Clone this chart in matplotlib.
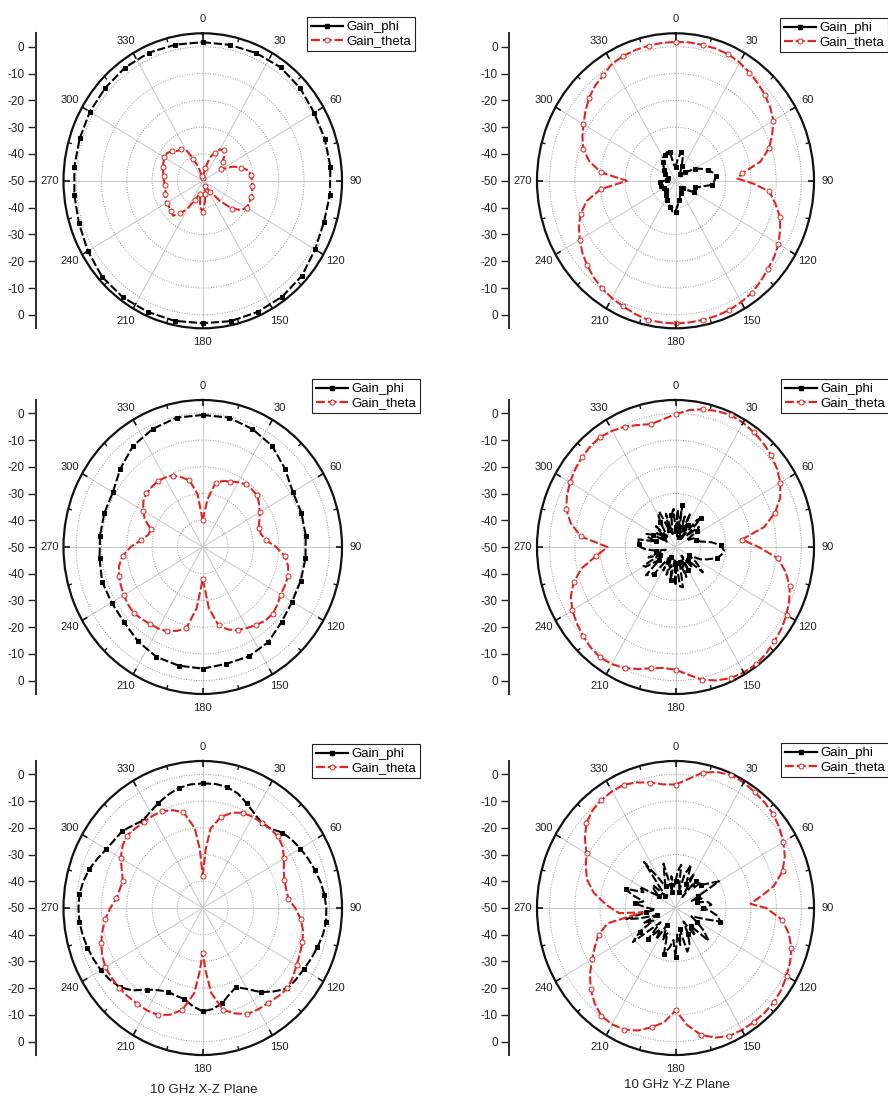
import numpy as np
import matplotlib
matplotlib.use("Agg")
import matplotlib.pyplot as plt
from matplotlib.lines import Line2D

plt.rcParams['font.family'] = ['Liberation Sans', 'DejaVu Sans']

# ---------------------------------------------------------------- data (dB)
ANG12 = list(range(0, 360, 12))
ANG6 = list(range(0, 360, 6))

# X-Z plane, first row
xz_a_phi = [1.7, 1.8, 2.1, 2.3, 1.7, 0.8, 0.7, 0.7, 0.5, 0.3, 1.2, 2.8, 3.4, 3.5, 3.5,
            3.1, 3.4, 3.5, 3.7, 3.5, 2.4, 1.4, 1.0, 1.0, 1.1, 1.5, 1.8, 2.2, 2.3, 1.9]
xz_a_theta = [-49, -48, -45, -41, -38.5, -36.5, -36, -37, -39.5, -41,
              -41.5, -37, -34, -31.5, -31, -30.5, -30.3, -30, -30, -29.8,
              -30, -31.5, -34.5, -40, -45, -47, -48, -47, -45, -42,
              -38.5, -40, -45, -44, -42, -38, -35, -32.5, -33, -33.5,
              -33.5, -33.8, -34.5, -35, -35, -34.6, -34.5, -34, -33.5, -33,
              -32.5, -32.5, -33.5, -35, -35.5, -36.5, -41, -45, -48, -49.5]

# Y-Z plane, first row
ys_a_phi = [-45, -42, -39, -40.5, -44, -46, -47, -46.5, -45, -44,
            -41, -39, -36.5, -35, -34, -34.5, -35.5, -39.5, -42, -42.5,
            -41.5, -44, -46, -47, -46.5, -46.5, -45, -44, -42.5, -41,
            -38.5, -38.5, -40, -41, -42, -43, -43.5, -44, -45, -45,
            -44.5, -44, -43.8, -43.5, -44, -45.5, -46.5, -47, -47, -46,
            -45, -44.5, -44, -43, -41.5, -40, -39.5, -38.8, -39, -44]
ys_a_theta_ang = [0, 6, 12, 18, 24, 30, 36, 42, 48, 54, 60, 66, 72, 78, 84, 88, 92, 96,
                  102, 108, 114, 120, 126, 132, 138, 144, 150, 156, 162, 168, 174, 180,
                  186, 192, 198, 204, 210, 216, 222, 228, 234, 240, 246, 252, 258, 264,
                  270, 276, 282, 288, 294, 300, 306, 312, 318, 324, 330, 336, 342, 348, 354]
ys_a_theta = [1.8, 1.9, 1.8, 1.8, 1.6, 0.9, -0.1, -1.1, -2.2, -3.5, -5.1, -8, -11, -15.5,
              -23.3, -25.5, -19, -12.6,
              -9.5, -6.4, -4.5, -2.8, -1.6, -0.7, 0.5, 1.6, 2.2, 2.7, 2.9, 3, 3.1, 3.2,
              3.1, 3, 2.2, 1.2, 0.5, -0.4, -1.5, -2.8, -4.3, -6.1, -8, -10.4, -14, -20.2,
              -30.7, -20.3, -15, -11.5, -9.5, -7.8, -5.8, -3.8, -2.3, -1.3, 0.4, 1.0, 1.3, 1.5, 1.7]

# X-Z plane, second row
xz_b_phi = [-0.6, -0.5, -1.7, -3.3, -6.3, -8.9, -9, -9.1, -9.2, -9.3, -9.2, -8.1, -6, -5.2, -5.3,
            -4.5, -4.6, -5, -6.4, -8.1, -8.4, -8.2, -9, -9.2, -9.1, -9, -6.2, -3.2, -1.6, -0.5]
xz_b_theta = [-40, -32, -25.5, -24, -23.2, -22, -21, -21, -21.1, -22.5,
              -24, -25.5, -26.8, -26.5, -25, -21, -17.4, -15.5, -14.6, -14.5,
              -14.4, -13.5, -12.7, -13, -14, -15, -16, -17.5, -20, -27,
              -38, -27, -19, -17, -15.4, -14.8, -14.5, -13.8, -13.2, -13.5,
              -14, -14.6, -15.2, -16.2, -18.2, -21.5, -25.5, -28, -28.5, -25,
              -22.8, -21, -20, -19.8, -19.6, -20, -20.8, -22.5, -24.5, -30]

# Y-Z plane, second row
ys_b_phi_ang = [0, 4, 8, 10, 14, 18, 22, 25, 29, 32, 36, 40, 43, 47, 51, 55, 60, 66, 72, 78,
                83, 88, 94, 99, 104, 110, 115, 120, 125, 131, 135, 139, 144, 149, 154, 159,
                164, 169, 173, 177, 180, 184, 189, 194, 199, 204, 209, 214, 220, 224, 228,
                233, 238, 241, 245, 250, 255, 260, 266, 270, 274, 278, 281, 285, 289, 293,
                297, 300, 305, 310, 315, 320, 327, 330, 334, 338, 343, 347, 352, 357]
ys_b_phi = [-44, -36, -46, -34, -45, -38, -46, -36, -44, -40.5, -46, -37, -35, -44, -38,
            -39.5, -45, -42, -41.5, -40, -35.5, -32, -30.7, -31.5, -33, -36.5, -39, -44,
            -40, -35.6, -43, -39.8, -46, -40, -45, -38, -44, -34.6, -35.2, -44, -35.5, -45,
            -37.6, -43, -39, -46, -40, -45, -37, -35.7, -34.2, -42, -36, -35.5, -43, -38.6,
            -46, -42, -38, -36, -35.4, -35.2, -35, -42, -38, -37.5, -40, -46, -41, -44,
            -39, -45, -39, -36.5, -35.3, -43, -37, -45, -38, -35.7]
ys_b_theta = [-0.3, 1.5, 2.7, 3.5, 4, 3.7, 3, 2.2, 1.2, -0.2,
              -1.9, -4.5, -8.4, -14, -23.5, -17, -9.1, -5.3, -2.3, -0.6,
              0.9, 2, 2.8, 3.7, 4.3, 4.2, 3.7, 2.5, 0.8, -2,
              -4.1, -4.5, -3.6, -2, -0.4, 0.6, 1, 0.5, -0.5, -1.5,
              -2.7, -4.5, -7.5, -12, -18.3, -23, -12.3, -7.5, -4.4, -2.8,
              -1.6, -0.7, 0.1, 0.6, 0.9, 0.2, -0.7, -2, -3, -2]

# X-Z plane, 10 GHz
xz_c_phi = [-3.4, -3.3, -3.7, -5, -7.2, -9.2, -10.5, -10, -7.8, -6.5,
            -5.5, -4.5, -3.5, -2.5, -1.7, -1.2, -1, -1.5, -2.4, -3.2,
            -4, -4.5, -5, -8, -11.1, -15, -17.6, -16, -13.5, -12,
            -11.3, -13, -15.2, -15.5, -15.8, -14.5, -12.3, -8.5, -5.8, -4.5,
            -3.5, -2.8, -2.1, -1.5, -1, -0.9, -1, -1.8, -2.9, -4.5,
            -6, -6.8, -7.1, -8.5, -9.6, -8.5, -7, -5.5, -4.1, -3.5]
xz_c_theta_ang = [0, 3, 6, 12, 18, 24, 30, 36, 42, 48, 54, 60, 66, 72, 78, 84, 90, 96, 102,
                  108, 114, 120, 126, 132, 138, 144, 150, 156, 162, 168, 174, 177, 180, 183,
                  186, 192, 198, 204, 210, 216, 222, 228, 234, 240, 246, 252, 258, 264, 270,
                  276, 282, 288, 294, 300, 306, 312, 318, 324, 330, 336, 342, 348, 354, 357]
xz_c_theta = [-38, -28, -20, -15.2, -12.5, -11, -10.6, -10.5, -10.2, -10, -11, -12.9, -15,
              -16.1, -16.3, -16, -13.5, -11.1, -9.5, -8.6, -8, -7.2, -6, -5, -5.5, -6.1,
              -6.2, -6.6, -8.5, -11, -18, -26, -33.3, -26, -18, -11, -8, -6.2, -5.8, -5.8,
              -5.6, -5.5, -5.5, -5.6, -6.5, -7.8, -9.5, -11.3, -13.5, -15.7, -16.5, -16.8,
              -15, -12.6, -10.8, -9.6, -10, -10.4, -10.2, -10.4, -11.5, -13.4, -20, -28]

# Y-Z plane, 10 GHz
ys_c_phi_ang = [0, 4, 8, 12, 16, 21, 25, 30, 34, 38, 43, 47, 50, 55, 60, 64, 68, 71, 76, 80,
                85, 90, 95, 100, 106, 110, 116, 122, 127, 133, 138, 143, 148, 153, 158, 164,
                168, 172, 176, 180, 184, 189, 195, 199, 203, 208, 213, 218, 223, 228, 233,
                238, 242, 246, 250, 255, 258, 262, 266, 270, 276, 281, 286, 290, 295, 299,
                304, 309, 314, 318, 324, 329, 334, 339, 344, 348, 352, 356]
ys_c_phi = [-40, -36, -33.7, -44, -37, -32.7, -40, -35, -45, -37, -40, -36, -36.6, -34, -30,
            -40, -43, -39, -41, -37, -35.7, -39, -36, -33, -31.5, -38, -43, -40, -36, -32,
            -41, -37, -44, -39, -35, -33, -42, -36, -40, -31.6, -38, -35, -32.3, -40, -37,
            -43, -36, -40, -34, -42, -28.8, -33.3, -40, -36, -42, -35, -30, -38, -42, -39,
            -33.7, -37, -32, -29, -36, -33.7, -42, -39, -37.6, -44, -28.7, -37, -41, -38,
            -32.7, -44, -38, -42]
ys_c_theta_ang = [0, 6, 12, 18, 24, 30, 36, 42, 48, 54, 60, 66, 72, 78, 82, 87, 90, 96, 102,
                  108, 114, 120, 126, 132, 138, 144, 150, 156, 162, 168, 174, 180, 186, 192,
                  198, 204, 210, 216, 222, 228, 234, 240, 246, 252, 258, 263, 265, 272, 280,
                  287, 294, 300, 306, 312, 318, 324, 330, 336, 342, 348, 354]
ys_c_theta = [-3.8, -1.5, 1.8, 3.5, 4.4, 4.2, 3.6, 3, 2.3, 1, -0.5, -2.5, -5.3, -10, -15,
              -20.2, -14, -7.4, -4, -1.6, -0.2, 0.9, 2, 2.6, 2.8, 2.8, 2.7, 2.4, 1, -1.5, -6,
              -11.7, -7, -4.4, -1.8, -0.2, 0.3, 0, -2, -4.7, -8, -11.8, -15, -17.9, -22.5,
              -37, -27.6, -22.8, -17, -13.2, -11, -9.2, -5.5, -2.4, -0.8, 0, 0.4, 0.5, -0.6,
              -2, -3.5]

THETA_LABELS = ['0', '30', '60', '90', '120', '150', '180', '210', '240', '270', '300', '330']
RADIAL_TICKS = [-50, -40, -30, -20, -10, 0, 10, 20, 30, 40, 50]
RADIAL_LABELS = ['-50' if v == 0 else str(abs(v) - 50) for v in RADIAL_TICKS]
LEGEND_LABELS = ['Gain_phi', 'Gain_theta']
PLANE_TITLES = ['10 GHz X-Z Plane', '10 GHz Y-Z Plane']

# ---------------------------------------------------------------- layout (pixels)
W, H = 888, 1098
R_MIN, R_MAX = -50, 5
RED = '#e3231f'
RING = '#111111'

COL_X = [(63.5, 342.0), (537.0, 814.0)]
ROW_Y = [(33.3, 328.3), (400.0, 694.0), (761.0, 1055.0)]
SCALE_X = [35.7, 509.0]
LEGEND_POS = [[(307, 17), (780, 18)], [(312, 379), (781, 379)], [(312, 744), (781, 743)]]

fig = plt.figure(figsize=(W / 100, H / 100), dpi=100)


def frac_rect(x0, x1, y0, y1):
    return [x0 / W, 1 - y1 / H, (x1 - x0) / W, (y1 - y0) / H]


def draw_curve(ax, ang, vals, color, marker, face, every):
    ang = np.asarray(ang, dtype=float)
    vals = np.asarray(vals, dtype=float)
    th = np.deg2rad(np.append(ang, ang[0] + 360.0))
    rr = np.append(vals, vals[0])
    if every == 'grid':
        idx = [i for i, a in enumerate(ang) if a % 12 == 0]
    else:
        idx = list(range(0, len(ang), every))
    ax.plot(th, rr, color=color, lw=1.5, ls=(0, (4.0, 1.3)), marker=marker,
            ms=3.6 if marker == 'o' else 3.4, mfc=face, mec=color, mew=0.7,
            markevery=idx, zorder=3)


def make_panel(row, col, phi_ang, phi, theta_ang, theta, phi_every='grid'):
    x0, x1 = COL_X[col]
    y0, y1 = ROW_Y[row]
    ax = fig.add_axes(frac_rect(x0, x1, y0, y1), projection='polar')
    ax.set_aspect('auto')
    ax.set_theta_zero_location('N')
    ax.set_theta_direction(-1)
    ax.set_ylim(R_MIN, R_MAX)
    ax.set_yticks([-40, -30, -20, -10, 0])
    ax.set_yticklabels([])
    ax.set_xticks(np.deg2rad(np.arange(0, 360, 30)))
    ax.set_xticklabels(THETA_LABELS)
    ax.tick_params(axis='x', length=0, pad=3, labelsize=8, colors='#222222')
    ax.tick_params(axis='y', length=0)
    ax.xaxis.grid(True, color='#c8c8c8', lw=0.7, ls='-')
    ax.yaxis.grid(True, color='#9a9a9a', lw=0.7, ls=(0, (1, 1.6)))
    ax.spines['polar'].set_linewidth(1.6)
    ax.spines['polar'].set_color(RING)

    # short inward ticks on the outer ring: every 30 deg long, in between short
    ax.vlines(np.deg2rad(np.arange(0, 360, 30)), R_MAX - 2.4, R_MAX, color=RING,
              lw=1.2, zorder=4)
    ax.vlines(np.deg2rad(np.arange(15, 360, 30)), R_MAX - 1.5, R_MAX, color=RING,
              lw=1.0, zorder=4)

    draw_curve(ax, phi_ang, phi, 'black', 's', 'black', phi_every)
    draw_curve(ax, theta_ang, theta, RED, 'o', 'white', 'grid')

    # linear gain scale beside the plot
    sx = SCALE_X[col]
    lax = fig.add_axes([sx / W, 1 - y1 / H, 0.002, (y1 - y0) / H])
    lax.patch.set_visible(False)
    lax.set_ylim(-(R_MAX - R_MIN), R_MAX - R_MIN)
    lax.set_yticks(RADIAL_TICKS)
    lax.set_yticklabels(RADIAL_LABELS)
    lax.set_xticks([])
    for s in ('top', 'right', 'bottom'):
        lax.spines[s].set_visible(False)
    lax.spines['left'].set_linewidth(1.5)
    lax.spines['left'].set_color('#333333')
    lax.tick_params(axis='y', direction='out', length=6, width=1.0, pad=2,
                    labelsize=8.5, colors='#222222')

    handles = [Line2D([], [], color='black', lw=1.6, marker='s', ms=3.4),
               Line2D([], [], color=RED, lw=1.6, ls=(0, (4.0, 1.3)), marker='o', ms=3.6,
                      mfc='white', mec=RED, mew=0.7)]
    lx, ly = LEGEND_POS[row][col]
    leg = ax.legend(handles, LEGEND_LABELS, loc='upper left',
                    bbox_to_anchor=(lx / W, 1 - ly / H), bbox_transform=fig.transFigure,
                    fontsize=9.5, frameon=True, fancybox=False, edgecolor='#222222',
                    framealpha=1, borderpad=0.3, labelspacing=0.15, handlelength=2.4,
                    handletextpad=0.3, borderaxespad=0, numpoints=1)
    leg.get_frame().set_linewidth(0.8)
    return ax


make_panel(0, 0, ANG12, xz_a_phi, ANG6, xz_a_theta)
make_panel(0, 1, ANG6, ys_a_phi, ys_a_theta_ang, ys_a_theta)
make_panel(1, 0, ANG12, xz_b_phi, ANG6, xz_b_theta)
make_panel(1, 1, ys_b_phi_ang, ys_b_phi, ANG6, ys_b_theta, phi_every=3)
make_panel(2, 0, ANG6, xz_c_phi, xz_c_theta_ang, xz_c_theta)
make_panel(2, 1, ys_c_phi_ang, ys_c_phi, ys_c_theta_ang, ys_c_theta, phi_every=3)

fig.text(204 / W, 1 - 1090 / H, PLANE_TITLES[0], ha='center', va='center', fontsize=9.5,
         color='#222222')
fig.text(677 / W, 1 - 1085 / H, PLANE_TITLES[1], ha='center', va='center', fontsize=9.5,
         color='#222222')

fig.savefig('out.png', dpi=100, facecolor='white')
